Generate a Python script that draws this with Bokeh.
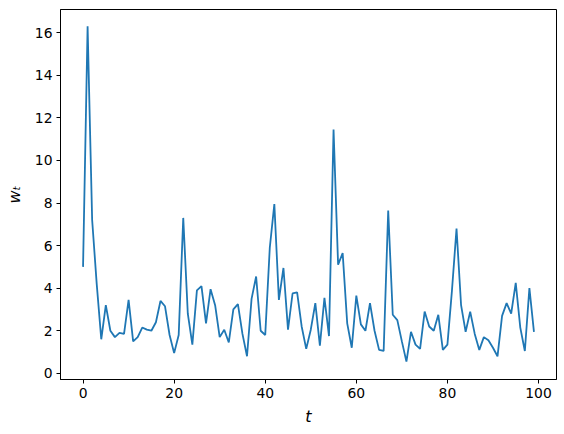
from bokeh.plotting import figure
from bokeh.models import Range1d, FixedTicker
from bokeh.embed import file_html
from bokeh.resources import INLINE

t = list(range(100))
w = [5.0, 16.3, 7.2, 4.2, 1.6, 3.2, 2.0, 1.7, 1.9, 1.85,
     3.45, 1.5, 1.7, 2.15, 2.05, 2.0, 2.4, 3.4, 3.15, 1.8,
     0.95, 1.8, 7.3, 2.8, 1.35, 3.9, 4.1, 2.35, 3.95, 3.2,
     1.7, 2.05, 1.45, 3.0, 3.25, 1.85, 0.8, 3.5, 4.55, 2.0,
     1.8, 5.9, 7.95, 3.45, 4.95, 2.05, 3.75, 3.8, 2.2, 1.15,
     2.05, 3.3, 1.3, 3.55, 1.75, 11.45, 5.1, 5.65, 2.35, 1.2,
     3.65, 2.3, 2.0, 3.3, 2.0, 1.1, 1.05, 7.65, 2.75, 2.5,
     1.5, 0.55, 1.95, 1.35, 1.15, 2.9, 2.2, 2.0, 2.75, 1.1,
     1.35, 3.9, 6.8, 3.2, 1.95, 2.9, 1.85, 1.1, 1.7, 1.55,
     1.2, 0.8, 2.7, 3.3, 2.8, 4.25, 2.15, 1.05, 4.0, 1.95]
xticks = [0, 20, 40, 60, 80, 100]
yticks = [0, 2, 4, 6, 8, 10, 12, 14, 16]

p = figure(width=564, height=434, output_backend="svg", toolbar_location=None,
           x_range=Range1d(-4.95, 103.95), y_range=Range1d(-0.29, 17.09),
           min_border_left=60, min_border_right=8, min_border_top=9, min_border_bottom=55)
p.line(t, w, line_color="#1f77b4", line_width=1.8)

p.xgrid.visible = False
p.ygrid.visible = False
p.outline_line_color = "black"
p.outline_line_width = 1
p.outline_line_alpha = 1

for ax, ticks in ((p.xaxis, xticks), (p.yaxis, yticks)):
    ax.ticker = FixedTicker(ticks=ticks)
    ax.minor_tick_line_color = None
    ax.major_tick_out = 4
    ax.major_tick_in = 0
    ax.axis_line_color = "black"
    ax.major_label_text_font = "DejaVu Sans"
    ax.major_label_text_font_size = "13.9px"
    ax.major_label_text_color = "black"
    ax.axis_label_text_font = "DejaVu Sans"
    ax.axis_label_text_font_size = "16px"
    ax.axis_label_text_font_style = "italic"
    ax.axis_label_text_color = "black"

p.xaxis.axis_label = "t"
p.yaxis.axis_label = "wₜ"
p.xaxis.major_label_standoff = 4
p.yaxis.major_label_standoff = 4
p.xaxis.axis_label_standoff = 6
p.yaxis.axis_label_standoff = 8

open("out.html", "w").write(file_html(p, INLINE))
